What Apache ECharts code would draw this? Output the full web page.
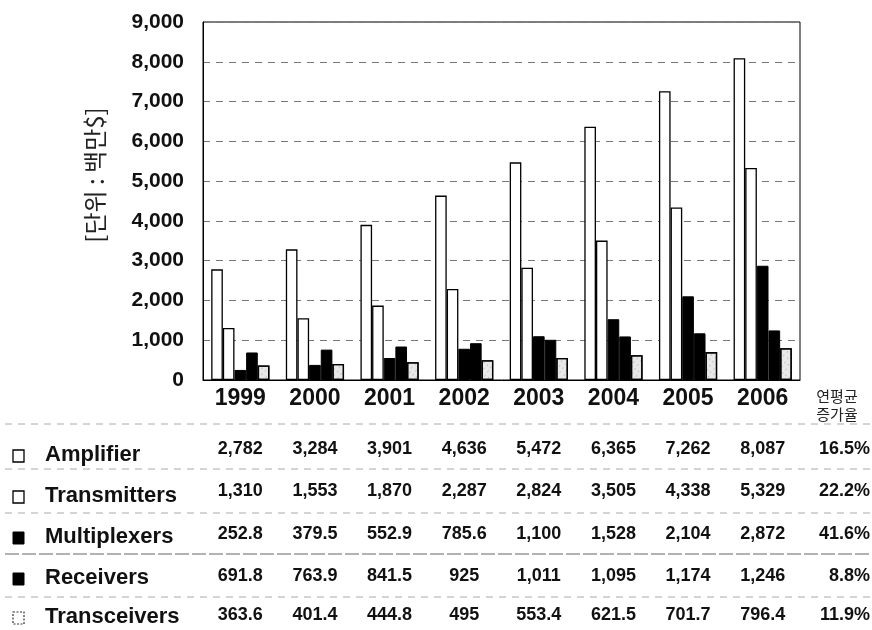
<!DOCTYPE html>
<html><head><meta charset="utf-8">
<script src="https://cdn.jsdelivr.net/npm/echarts@6/dist/echarts.min.js"></script>
<style>html,body{margin:0;padding:0;background:#fff}#c{width:872px;height:630px}</style>
</head><body><div id="c"></div>
<script>
const years = ['1999','2000','2001','2002','2003','2004','2005','2006'];
const seriesNames = ['Amplifier','Transmitters','Multiplexers','Receivers','Transceivers'];
const amplifier = [2782,3284,3901,4636,5472,6365,7262,8087];
const transmitters = [1310,1553,1870,2287,2824,3505,4338,5329];
const multiplexers = [252.8,379.5,552.9,785.6,1100,1528,2104,2872];
const receivers = [691.8,763.9,841.5,925,1011,1095,1174,1246];
const transceivers = [363.6,401.4,444.8,495,553.4,621.5,701.7,796.4];
const growthRates = ['16.5%','22.2%','41.6%','8.8%','11.9%'];
const yTicks = [0,1000,2000,3000,4000,5000,6000,7000,8000,9000];
const growthHeader = '연평균\n증가율';
const unitLabel = '[단위 : 백만$]';

const allData = [amplifier, transmitters, multiplexers, receivers, transceivers];
const FONT = '"Liberation Sans", Arial, sans-serif';
const KFONT = '"Noto Sans CJK KR", sans-serif';

const styles = [
  {color:'#fff', borderColor:'#000', borderWidth:1.3},
  {color:'#fff', borderColor:'#000', borderWidth:1.3},
  {color:'#000', borderColor:'#000', borderWidth:1},
  {color:'#000', borderColor:'#000', borderWidth:1},
  {color:'#e8e8e8', borderColor:'#000', borderWidth:1.3,
   decal:{symbol:'rect', symbolSize:0.6, color:'rgba(30,30,30,0.6)', dashArrayX:[[1,3],[0,2,1,2]], dashArrayY:[2,3], rotation:0.6}}
];
const iconStyles = [
  {fill:'#fff', stroke:'#000', lineWidth:1.3},
  {fill:'#fff', stroke:'#000', lineWidth:1.3},
  {fill:'#000', stroke:'#000', lineWidth:1},
  {fill:'#000', stroke:'#000', lineWidth:1},
  {fill:'#fff', stroke:'#333', lineWidth:1.2, lineDash:[2,1.5]}
];

function fmt(v){ return v >= 1000 ? Math.round(v).toLocaleString('en-US') : String(v); }

const axisY = 380;
const rowCenters = [449, 491, 534, 576, 615];
const labelCenters = [455, 496, 537, 578, 617];

const xAxes = [{
  type:'category', data: years, gridIndex:0, position:'bottom',
  axisLine:{show:true, lineStyle:{color:'#000', width:1}}, axisTick:{show:false},
  axisLabel:{interval:0, margin:19, verticalAlign:'middle', fontFamily:FONT, fontWeight:'bold', fontSize:23, color:'#111'}
}];
allData.forEach((arr,i)=>{
  xAxes.push({
    type:'category', data: arr.map(fmt), gridIndex:0, position:'bottom', offset: rowCenters[i]-axisY,
    axisLine:{show:false}, axisTick:{show:false}, splitLine:{show:false},
    axisLabel:{interval:0, margin:0, verticalAlign:'middle', fontFamily:FONT, fontWeight:'bold', fontSize:18, color:'#111'}
  });
});

const graphics = [
  {type:'text', x:95, y:175, rotation:Math.PI/2, style:{text:unitLabel, font:'24px '+KFONT, fill:'#222', textAlign:'center', textVerticalAlign:'middle'}},
  {type:'text', x:837, y:405, style:{text:growthHeader, font:'15px '+KFONT, fill:'#222', textAlign:'center', textVerticalAlign:'middle', lineHeight:18}}
];
growthRates.forEach((g,i)=>{
  graphics.push({type:'text', x:870, y:rowCenters[i], style:{text:g, font:'bold 18px '+FONT, fill:'#111', textAlign:'right', textVerticalAlign:'middle'}});
});
seriesNames.forEach((n,i)=>{
  graphics.push({type:'rect', shape:{x:13, y:labelCenters[i]-5, width:11, height:12}, style:iconStyles[i]});
  graphics.push({type:'text', x:45, y:labelCenters[i], style:{text:n, font:'bold 22px '+FONT, fill:'#111', textAlign:'left', textVerticalAlign:'middle'}});
});
[424, 469, 513, 597].forEach(y=>{
  graphics.push({type:'line', shape:{x1:5,y1:y,x2:870,y2:y}, style:{stroke:'#aaa', lineWidth:1, lineDash:[7,6]}});
});
graphics.push({type:'line', shape:{x1:5,y1:554,x2:870,y2:554}, style:{stroke:'#666', lineWidth:1, lineDash:[14,3]}});

const chart = echarts.init(document.getElementById('c'), null, {renderer:'canvas'});
chart.setOption({
  animation:false,
  backgroundColor:'#fff',
  grid:{left:203, right:72, top:22, bottom:250, show:true, borderColor:'#000', borderWidth:1, backgroundColor:'transparent'},
  xAxis: xAxes,
  yAxis:{
    type:'value', min:yTicks[0], max:yTicks[yTicks.length-1], interval:yTicks[1]-yTicks[0],
    axisLine:{show:true, lineStyle:{color:'#000'}}, axisTick:{show:false},
    axisLabel:{margin:19, fontFamily:FONT, fontWeight:'bold', fontSize:21, color:'#111',
      formatter:v=>v.toLocaleString('en-US')},
    splitLine:{show:true, lineStyle:{color:'#777', type:[7,6], width:1}}
  },
  series: allData.map((arr,i)=>({
    name: seriesNames[i], type:'bar', xAxisIndex:0, data:arr,
    barGap:'0%', barCategoryGap:'22%',
    itemStyle: styles[i]
  })),
  graphic: graphics
});
</script></body></html>
